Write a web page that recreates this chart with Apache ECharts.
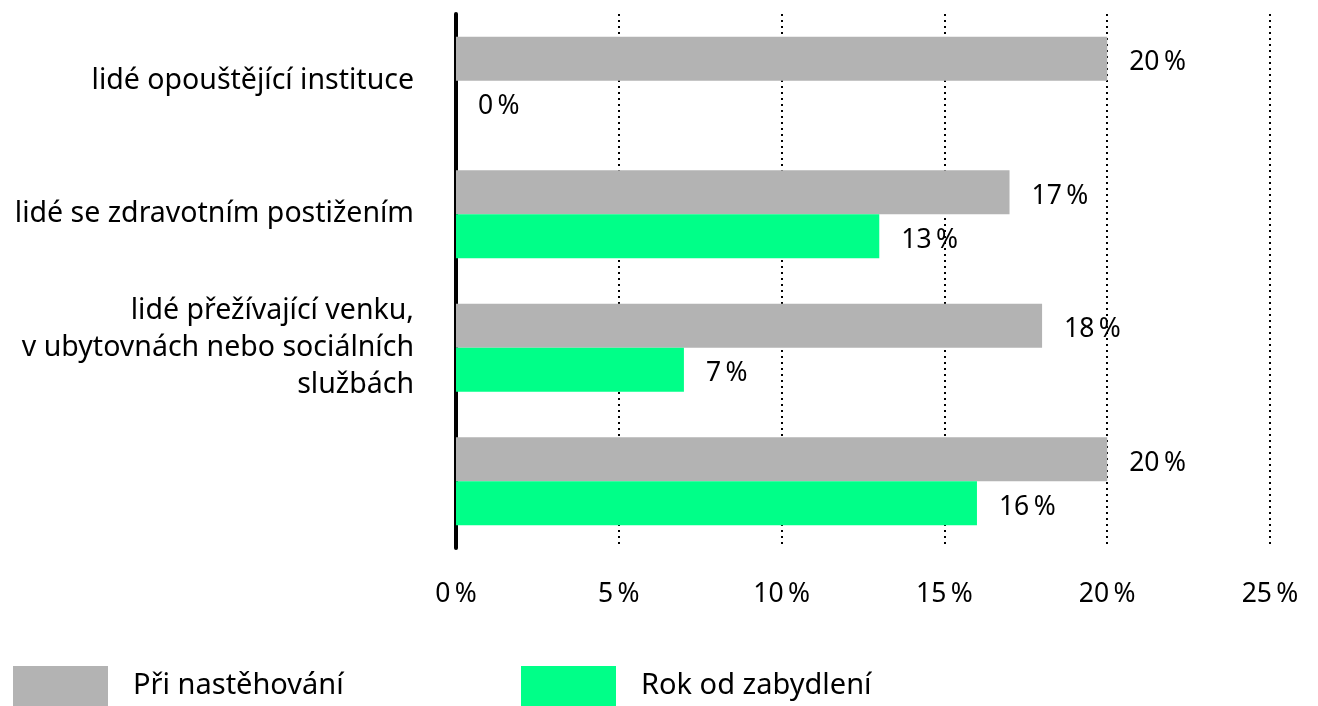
<!DOCTYPE html>
<html>
<head>
<meta charset="utf-8">
<script src="https://cdn.jsdelivr.net/npm/echarts@6/dist/echarts.min.js"></script>
<style>
    html, body { margin: 0; padding: 0; background: #fff; }
    #chart { width: 1318px; height: 706px; }
</style>
</head>
<body>
<div id="chart"></div>
<script>
// data
var categories = [
    'lidé opouštějící instituce',
    'lidé se zdravotním postižením',
    'lidé přežívající venku,\nv ubytovnách nebo sociálních\nslužbách',
    ''
];
var seriesNames = ['Při nastěhování', 'Rok od zabydlení'];
var seriesColors = ['#b3b3b3', '#00ff88'];
var atMoveIn = [20, 17, 18, 20];
var afterYear = [0, 13, 7, 16];
var xTicks = [0, 5, 10, 15, 20, 25];

var font = '"Noto Sans", "Open Sans", sans-serif';
var pct = '\u2009%';

function barSeries(name, data, color) {
    return {
        name: name,
        type: 'bar',
        data: data,
        barWidth: 44,
        barGap: '0%',
        itemStyle: { color: color },
        label: {
            show: true,
            position: 'right',
            distance: 22,
            offset: [0, 4],
            formatter: '{c}' + pct,
            color: '#000',
            fontSize: 26.5,
            fontFamily: font
        }
    };
}

function legendAt(left, name) {
    return {
        left: left,
        top: 666,
        padding: 0,
        icon: 'rect',
        itemWidth: 95,
        itemHeight: 40,
        textStyle: {
            padding: [14, 0, 0, 20],
            fontSize: 29,
            color: '#000',
            fontFamily: font
        },
        data: [name]
    };
}

var chart = echarts.init(document.getElementById('chart'));
chart.setOption({
    animation: false,
    grid: { left: 456, right: 48, top: 14, bottom: 158 },
    legend: [
        legendAt(13, seriesNames[0]),
        legendAt(521, seriesNames[1])
    ],
    xAxis: {
        type: 'value',
        min: xTicks[0],
        max: xTicks[xTicks.length - 1],
        interval: 5,
        axisLine: { show: false },
        axisTick: { show: false },
        axisLabel: {
            formatter: '{value}' + pct,
            margin: 33,
            fontSize: 26.5,
            color: '#000',
            fontFamily: font
        },
        splitLine: {
            show: true,
            lineStyle: { type: [2, 4], color: '#000', width: 2 }
        }
    },
    yAxis: {
        type: 'category',
        inverse: true,
        data: categories,
        axisLine: { show: true, lineStyle: { color: '#000', width: 4 } },
        axisTick: { show: false },
        axisLabel: {
            margin: 42,
            fontSize: 28.5,
            lineHeight: 37,
            color: '#000',
            align: 'right',
            fontFamily: font
        }
    },
    series: [
        barSeries(seriesNames[0], atMoveIn, seriesColors[0]),
        barSeries(seriesNames[1], afterYear, seriesColors[1])
    ]
});
</script>
</body>
</html>
